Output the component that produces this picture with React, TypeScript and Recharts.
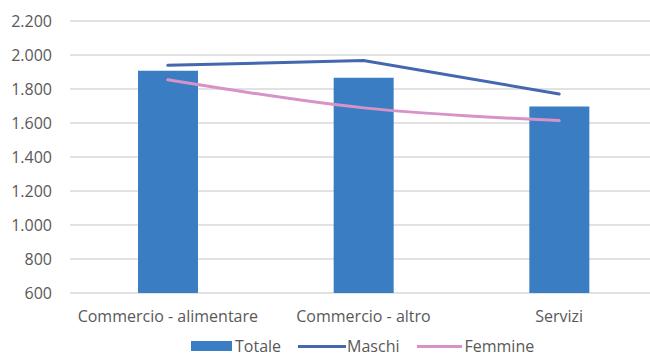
import { ComposedChart, Bar, Line, XAxis, YAxis, CartesianGrid } from 'recharts';

const categories = ['Commercio - alimentare', 'Commercio - altro', 'Servizi'];
const totale = [1907, 1866, 1697];
const maschi = [1939, 1968, 1771];
const femmine = [1854, 1689, 1614];
const yTicks = [600, 800, 1000, 1200, 1400, 1600, 1800, 2000, 2200];

const seriesNames = { totale: 'Totale', maschi: 'Maschi', femmine: 'Femmine' };

const colors = {
  totale: '#3A7DC2',
  maschi: '#4467B0',
  femmine: '#D793C8',
  grid: '#D9D9D9',
  text: '#595959',
};

const chartData = categories.map((name, i) => ({
  name,
  totale: totale[i],
  maschi: maschi[i],
  femmine: femmine[i],
}));

// 2.200 style thousands separator
const formatNum = (v: number) => String(v).replace(/\B(?=(\d{3})+(?!\d))/g, '.');

const font = '"Open Sans", sans-serif';

const LegendBox = () => (
  <div
    style={{
      position: 'absolute',
      left: 191,
      top: 339,
      display: 'flex',
      alignItems: 'center',
      fontFamily: font,
      fontSize: 16,
      color: colors.text,
      lineHeight: '14px',
    }}
  >
    <span style={{ width: 41, height: 10, background: colors.totale, marginRight: 3 }} />
    <span style={{ marginRight: 17 }}>{seriesNames.totale}</span>
    <span style={{ width: 48, height: 3, background: colors.maschi, marginRight: 1 }} />
    <span style={{ marginRight: 18 }}>{seriesNames.maschi}</span>
    <span style={{ width: 45, height: 3, background: colors.femmine, marginRight: 2 }} />
    <span>{seriesNames.femmine}</span>
  </div>
);

export default function App() {
  return (
    <div
      style={{
        position: 'absolute',
        left: 0,
        top: 0,
        width: 650,
        height: 357,
        overflow: 'hidden',
        background: '#fff',
      }}
    >
      <ComposedChart
        width={660}
        height={357}
        data={chartData}
        margin={{ top: 21, right: 3, bottom: 34, left: 0 }}
      >
        <CartesianGrid vertical={false} stroke={colors.grid} strokeWidth={1.5} />
        <XAxis
          dataKey="name"
          height={30}
          axisLine={false}
          tickLine={false}
          tickSize={0}
          tickMargin={18}
          interval={0}
          tick={{ fill: colors.text, fontSize: 16, fontFamily: font }}
        />
        <YAxis
          domain={[600, 2200]}
          ticks={yTicks}
          width={70}
          axisLine={false}
          tickLine={false}
          tickSize={0}
          tickMargin={18}
          tickFormatter={formatNum}
          tick={{ fill: colors.text, fontSize: 16, fontFamily: font }}
        />
        <Bar dataKey="totale" name={seriesNames.totale} fill={colors.totale} barSize={60} isAnimationActive={false} />
        <Line
          type="linear"
          dataKey="maschi"
          name={seriesNames.maschi}
          stroke={colors.maschi}
          strokeWidth={3}
          strokeLinecap="round"
          dot={false}
          activeDot={false}
          isAnimationActive={false}
        />
        <Line
          type="monotone"
          dataKey="femmine"
          name={seriesNames.femmine}
          stroke={colors.femmine}
          strokeWidth={3}
          strokeLinecap="round"
          dot={false}
          activeDot={false}
          isAnimationActive={false}
        />
      </ComposedChart>
      <LegendBox />
    </div>
  );
}
